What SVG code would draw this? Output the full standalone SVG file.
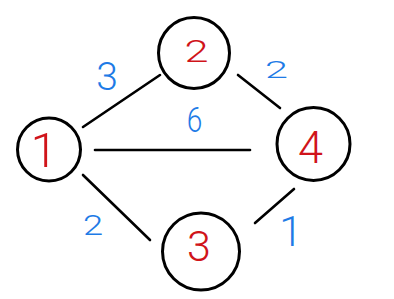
<svg xmlns="http://www.w3.org/2000/svg" width="394" height="299" viewBox="0 0 394 299">
<style>
.node circle{fill:#fff;stroke:#000;stroke-width:3}
.nl{fill:#d0141a;font-family:Roboto,"Liberation Sans",Arial,sans-serif;font-weight:300;text-anchor:middle}
.el{fill:#1e7be6;font-family:Roboto,"Liberation Sans",Arial,sans-serif;font-weight:300;text-anchor:middle}
#edges line{stroke:#000;stroke-width:2.6;stroke-linecap:round}
</style>
<rect width="394" height="299" fill="#fff"/>
<g id="edges">
<line x1="83" y1="127" x2="160" y2="75"/>
<line x1="238" y1="75" x2="280" y2="108"/>
<line x1="95" y1="150" x2="250" y2="150"/>
<line x1="83" y1="175" x2="150" y2="240"/>
<line x1="255" y1="223" x2="294" y2="189"/>
<text class="el" font-size="39" x="107" y="90">3</text>
<text class="el" font-size="23" transform="translate(276.5,78) scale(1.8,1)">2</text>
<text class="el" font-size="35" transform="translate(194.5,132) scale(0.8,1)">6</text>
<text class="el" font-size="28" transform="translate(93,235) scale(1.3,1)">2</text>
<text class="el" font-size="42" x="291" y="246">1</text>
</g>
<g id="node1" class="node">
<circle cx="49" cy="149.5" r="31.5"/>
<text class="nl" font-size="49" x="44" y="167">1</text>
</g>
<g id="node2" class="node">
<circle cx="194" cy="53" r="35.5"/>
<text class="nl" font-size="31" transform="translate(196.5,62) scale(1.4,1)">2</text>
</g>
<g id="node3" class="node">
<circle cx="201" cy="251.5" r="38.5"/>
<text class="nl" font-size="43" x="199" y="261">3</text>
</g>
<g id="node4" class="node">
<circle cx="313.5" cy="144" r="36.5"/>
<text class="nl" font-size="45" x="310.5" y="163">4</text>
</g>
</svg>
